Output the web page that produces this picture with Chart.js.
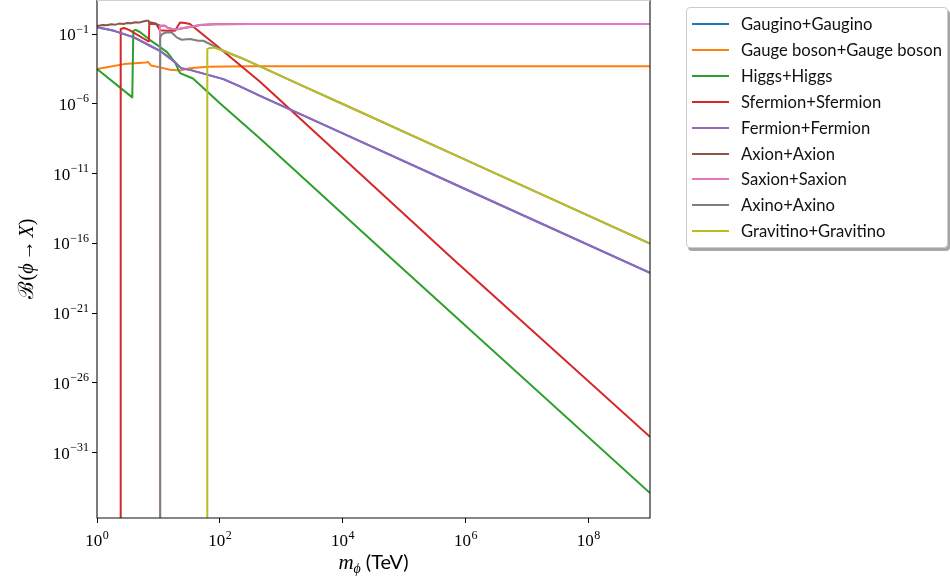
<!DOCTYPE html>
<html>
<head>
<meta charset="utf-8">
<title>Branching ratios of the modulus</title>
<script src="https://cdn.jsdelivr.net/npm/chart.js@4.4.1/dist/chart.umd.min.js"></script>
<style>
  html, body { margin: 0; padding: 0; background: #fff; }
  #wrap { position: relative; width: 950px; height: 579px; overflow: hidden; }
  #chart { position: absolute; left: 0; top: 0; }
  #legend { position: absolute; left: 686px; top: 7px; width: 262px; height: 241px; box-sizing: border-box;
            border: 1px solid #cccccc; border-radius: 4px; background: #fff;
            box-shadow: 2px 3px 0 rgba(0,0,0,0.35); }
  .row { position: absolute; left: 0; width: 100%; height: 24px; }
  .swatch { position: absolute; left: 5px; top: 11px; width: 37px; height: 2px; }
  .label { position: absolute; left: 54px; top: 0; line-height: 24px; font-size: 16.6px;
           font-family: Lato, "Open Sans", sans-serif; color: #111; white-space: nowrap; }
</style>
</head>
<body>
<div id="wrap">
  <canvas id="chart" width="950" height="579"></canvas>
  <div id="legend"></div>
</div>
<script>
// Decay channels of the modulus phi: mass m_phi (TeV) and branching ratio B(phi -> X).
// A closed channel is given a value far below the axis floor so its line drops off the plot.
const CLOSED = 1e-40;

const gauginoMass = [1, 1.9, 4.0, 7.3, 10.6, 17.5, 20, 23.3, 32.6, 114, 212, 450, 2000, 1e4, 1e6, 1e9];
const gauginoBR   = [0.31, 0.17, 0.058, 0.0145, 6.3e-3, 1.2e-3, 7.0e-4, 3.6e-4, 2.7e-4, 5.9e-5, 1.8e-5, 3.7e-6, 1.9e-7, 7.6e-9, 7.6e-13, 7.6e-19];

const gaugeBosonMass = [1, 1.6, 2.75, 6.2, 6.8, 7.6, 10.6, 15.4, 22.4, 32.6, 62, 300, 1e9];
const gaugeBosonBR   = [3.1e-4, 4.6e-4, 7.0e-4, 9.3e-4, 9.8e-4, 5.5e-4, 4.1e-4, 2.8e-4, 2.4e-4, 3.6e-4, 4.6e-4, 5.0e-4, 5.0e-4];

const higgsMass = [1, 3.75, 3.9, 4.26, 5.0, 7.3, 9.6, 13.8, 18.6, 22.4, 36.5, 100, 450, 6.26e4, 1e9];
const higgsBR   = [3.1e-4, 2.9e-6, 0.17, 0.20, 0.14, 0.037, 0.016, 5.1e-3, 9.3e-4, 1.6e-4, 6.5e-5, 1.1e-6, 3.3e-9, 8.0e-18, 1.3e-34];

const sfermionMass = [2.43, 2.43, 2.75, 3.32, 6.6, 7.0, 7.1, 9.1, 10.6, 13.8, 18.6, 22.4, 27, 32.6, 88.8, 450, 6.2e5, 1e9];
const sfermionBR   = [CLOSED, 0.23, 0.27, 0.20, 0.033, 0.030, 0.69, 0.57, 0.19, 0.17, 0.17, 0.67, 0.62, 0.52, 0.0145, 3.8e-5, 7.5e-18, 1.4e-30];

const fermionMass = [1, 1.9, 4.0, 7.3, 10.6, 17.5, 20, 23.3, 32.6, 114, 212, 450, 2000, 1e4, 1e6, 1e9];
const fermionBR   = [0.31, 0.17, 0.058, 0.0145, 6.3e-3, 1.2e-3, 7.0e-4, 3.6e-4, 2.7e-4, 5.9e-5, 1.8e-5, 3.7e-6, 1.9e-7, 7.6e-9, 7.6e-13, 7.6e-19];

const axionMass = [1, 1.25, 1.45, 1.7, 2.0, 2.3, 2.7, 3.1, 3.6, 4.2, 4.9, 5.6, 6.4, 6.9, 7.2, 8.5, 9.9, 10.6, 12.8, 14.3, 17.5, 20.5, 24.5, 32.6, 47.5, 83, 300, 1e9];
const axionBR   = [0.37, 0.45, 0.42, 0.50, 0.47, 0.56, 0.53, 0.62, 0.59, 0.69, 0.66, 0.79, 0.90, 0.88, 0.52, 0.55, 0.47, 0.39, 0.39, 0.27, 0.22, 0.22, 0.26, 0.32, 0.45, 0.51, 0.52, 0.52];

const saxionMass = [10.6, 10.6, 12.8, 14.3, 17.5, 20.5, 24.5, 32.6, 47.5, 83, 300, 1e9];
const saxionBR   = [CLOSED, 0.39, 0.39, 0.27, 0.22, 0.22, 0.26, 0.32, 0.45, 0.51, 0.52, 0.52];

const axinoMass = [10.7, 10.7, 11.5, 13.3, 16.4, 19.8, 23.9, 32.6, 44.6, 53.8, 114, 212, 450, 2000, 1e4, 1e6, 1e9];
const axinoBR   = [CLOSED, 0.061, 0.10, 0.128, 0.13, 0.058, 0.039, 0.044, 0.033, 0.033, 6.3e-3, 2.1e-3, 4.8e-4, 2.4e-5, 9.7e-7, 9.7e-11, 9.8e-17];

const gravitinoMass = [62.4, 62.4, 69, 80, 114, 212, 450, 2000, 1e4, 1e6, 1e9];
const gravitinoBR   = [CLOSED, 8.4e-3, 0.0102, 0.0106, 6.3e-3, 2.1e-3, 4.8e-4, 2.4e-5, 9.7e-7, 9.7e-11, 9.8e-17];

const seriesNames = ['Gaugino+Gaugino', 'Gauge boson+Gauge boson', 'Higgs+Higgs', 'Sfermion+Sfermion',
                     'Fermion+Fermion', 'Axion+Axion', 'Saxion+Saxion', 'Axino+Axino', 'Gravitino+Gravitino'];
const seriesColors = ['#1f77b4', '#ff7f0e', '#2ca02c', '#d62728', '#9467bd', '#8c564b', '#e377c2', '#7f7f7f', '#bcbd22'];
const seriesMass = [gauginoMass, gaugeBosonMass, higgsMass, sfermionMass, fermionMass, axionMass, saxionMass, axinoMass, gravitinoMass];
const seriesBR   = [gauginoBR, gaugeBosonBR, higgsBR, sfermionBR, fermionBR, axionBR, saxionBR, axinoBR, gravitinoBR];

const xTickValues = [1, 1e2, 1e4, 1e6, 1e8];
const xTickExponents = ['0', '2', '4', '6', '8'];
const yTickValues = [1e-1, 1e-6, 1e-11, 1e-16, 1e-21, 1e-26, 1e-31];
const yTickExponents = ['\u22121', '\u22126', '\u221211', '\u221216', '\u221221', '\u221226', '\u221231'];

const SERIF = '"Liberation Serif", "DejaVu Serif", serif';
const SANS = 'Lato, "Open Sans", sans-serif';

// Legend (HTML)
const legendEl = document.getElementById('legend');
seriesNames.forEach((name, i) => {
  const row = document.createElement('div');
  row.className = 'row';
  row.style.top = (4.3 + i * 25.85) + 'px';
  const sw = document.createElement('div');
  sw.className = 'swatch';
  sw.style.background = seriesColors[i];
  const lb = document.createElement('div');
  lb.className = 'label';
  lb.textContent = name;
  row.appendChild(sw);
  row.appendChild(lb);
  legendEl.appendChild(row);
});

// Draws a sequence of text runs (for powers of ten, subscripts, mixed fonts).
function drawRuns(ctx, runs, x, y, align) {
  let total = 0;
  runs.forEach(r => { ctx.font = r.font; r.w = ctx.measureText(r.t).width + (r.gap || 0); total += r.w; });
  let cx = align === 'center' ? x - total / 2 : (align === 'right' ? x - total : x);
  ctx.textAlign = 'left';
  ctx.textBaseline = 'alphabetic';
  runs.forEach(r => { ctx.font = r.font; ctx.fillText(r.t, cx, y + (r.dy || 0)); cx += r.w; });
}

function powerRuns(exp) {
  return [
    { t: '10', font: `17px ${SERIF}`, gap: 0.5 },
    { t: exp, font: `12px ${SERIF}`, dy: -7.5 }
  ];
}

const frameAndText = {
  id: 'frameAndText',
  afterDraw(chart) {
    const { ctx, chartArea: a, scales } = chart;
    ctx.save();
    // axes frame
    ctx.lineWidth = 1.1;
    ctx.strokeStyle = '#111';
    ctx.beginPath();
    ctx.moveTo(a.left, a.top); ctx.lineTo(a.left, a.bottom); ctx.lineTo(a.right, a.bottom); ctx.lineTo(a.right, a.top);
    ctx.stroke();
    ctx.strokeStyle = '#d0d0d0';
    ctx.beginPath();
    ctx.moveTo(a.left, a.top + 0.5); ctx.lineTo(a.right, a.top + 0.5);
    ctx.stroke();
    ctx.fillStyle = '#000';
    // x tick labels
    xTickValues.forEach((v, i) => {
      drawRuns(ctx, powerRuns(xTickExponents[i]), scales.x.getPixelForValue(v), a.bottom + 28, 'center');
    });
    // y tick labels
    yTickValues.forEach((v, i) => {
      drawRuns(ctx, powerRuns(yTickExponents[i]), a.left - 8, scales.y.getPixelForValue(v) + 6, 'right');
    });
    // x axis title
    drawRuns(ctx, [
      { t: 'm', font: `italic 21px ${SERIF}` },
      { t: '\u03D5', font: `italic 14px ${SERIF}`, dy: 4, gap: 5 },
      { t: '(TeV)', font: `20px ${SANS}` }
    ], (a.left + a.right) / 2, 569, 'center');
    // y axis title
    ctx.translate(26, (a.top + a.bottom) / 2);
    ctx.rotate(-Math.PI / 2);
    drawRuns(ctx, [
      { t: '\u212C', font: `21px ${SERIF}`, gap: 1 },
      { t: '(', font: `20px ${SERIF}` },
      { t: '\u03D5', font: `italic 20px ${SERIF}`, gap: 3 },
      { t: '\u2192', font: `20px ${SERIF}`, gap: 3 },
      { t: 'X', font: `italic 20px ${SERIF}` },
      { t: ')', font: `20px ${SERIF}` }
    ], 0, 7, 'center');
    ctx.restore();
  }
};

const datasets = seriesNames.map((name, i) => ({
  label: name,
  data: seriesMass[i].map((m, k) => ({ x: m, y: seriesBR[i][k] })),
  borderColor: seriesColors[i],
  backgroundColor: seriesColors[i],
  borderWidth: 2,
  pointRadius: 0,
  pointHoverRadius: 0,
  tension: 0,
  fill: false,
  borderJoinStyle: 'round',
  clip: 0,
  order: seriesNames.length - i
}));

const tickGrid = { display: true, drawOnChartArea: false, drawTicks: true, tickLength: 5, tickColor: '#000', tickWidth: 1 };

new Chart(document.getElementById('chart'), {
  type: 'line',
  data: { datasets },
  options: {
    responsive: false,
    animation: false,
    devicePixelRatio: 1,
    layout: { padding: { left: 0, right: 300, top: 0, bottom: 0 } },
    plugins: { legend: { display: false }, tooltip: { enabled: false } },
    scales: {
      x: {
        type: 'logarithmic', position: 'bottom', min: 1, max: 1e9,
        afterBuildTicks: s => { s.ticks = xTickValues.map(v => ({ value: v })); },
        afterFit: s => { s.height = 61; },
        ticks: { display: false },
        grid: tickGrid,
        border: { display: false }
      },
      y: {
        type: 'logarithmic', position: 'left', min: 2.1e-36, max: 27.5,
        afterBuildTicks: s => { s.ticks = yTickValues.map(v => ({ value: v })); },
        afterFit: s => { s.width = 97; },
        ticks: { display: false },
        grid: tickGrid,
        border: { display: false }
      }
    }
  },
  plugins: [frameAndText]
});
</script>
</body>
</html>
